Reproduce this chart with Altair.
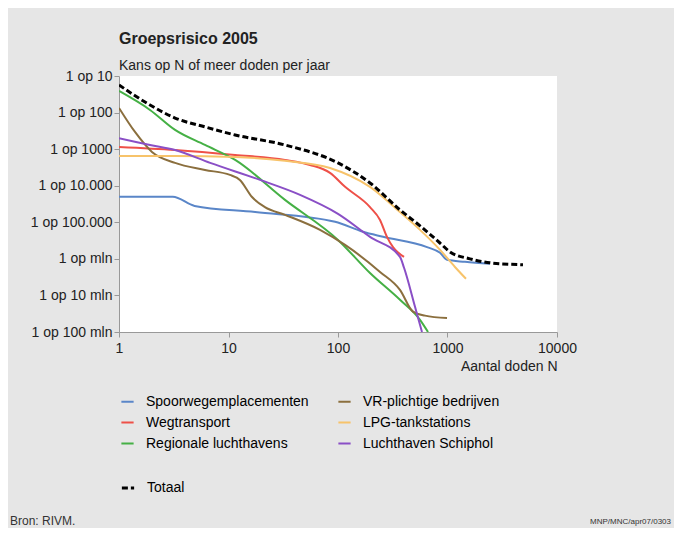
import json
import altair as alt
import pandas as pd

# ---- data ----
# legend fills column by column: first column, then second column
series_names = ["Spoorwegemplacementen", "Wegtransport", "Regionale luchthavens",
                "VR-plichtige bedrijven", "LPG-tankstations", "Luchthaven Schiphol"]
series_colors = ["#5a86c8", "#ee5048", "#45b045", "#8b6f3e", "#f7c36a", "#8a4fc6"]

spoor_n = [1, 3.1, 4.9, 17.5, 94, 169, 258, 650, 855, 990, 1445, 2445]
spoor_f = [5e-5, 5e-5, 2.8e-5, 1.9e-5, 1.03e-5, 5.5e-6, 4.0e-6, 2.1e-6, 1.46e-6, 9.4e-7, 8.3e-7, 7.3e-7]

weg_n = [1, 3.25, 11.5, 32.8, 55.5, 84.5, 116, 196, 242, 280, 318, 401]
weg_f = [1.15e-3, 9.5e-4, 6.95e-4, 5.07e-4, 3.7e-4, 2.24e-4, 9.3e-5, 2.6e-5, 1.16e-5, 4.0e-6, 2.1e-6, 1.13e-6]

regio_n = [1, 1.92, 3.25, 6.1, 11.5, 32.8, 100, 196, 368, 561, 664]
regio_f = [0.039, 0.0118, 0.00335, 0.0013, 5.07e-4, 4.1e-5, 3.3e-6, 4.1e-7, 7.6e-8, 2.15e-8, 1e-8]

vr_n = [1, 1.4, 2.0, 3.25, 6.1, 10.3, 12.7, 16.4, 21.5, 32.8, 68.5, 116, 242, 368, 484, 623, 990]
vr_f = [0.0134, 0.00295, 8.4e-4, 4.2e-4, 2.7e-4, 1.97e-4, 1.44e-4, 4.9e-5, 2.6e-5, 1.6e-5,
        6.2e-6, 2.4e-6, 4.4e-7, 1.42e-7, 3.6e-8, 2.8e-8, 2.4e-8]

lpg_n = [1, 3.25, 11.5, 32.8, 84.5, 196, 368, 561, 855, 1170, 1475]
lpg_f = [6.5e-4, 6.5e-4, 6.1e-4, 4.8e-4, 3.06e-4, 9.3e-5, 1.9e-5, 6.2e-6, 1.76e-6, 6.0e-7, 2.85e-7]

schiphol_n = [1, 1.92, 3.25, 6.8, 19.4, 45, 100, 196, 368, 401, 505, 585]
schiphol_f = [2.0e-3, 1.3e-3, 9.5e-4, 4.2e-4, 1.44e-4, 5.6e-5, 1.7e-5, 4.0e-6, 1.13e-6, 5.7e-7, 4.9e-8, 1e-8]

totaal_n = [1, 1.92, 3.25, 6.1, 11.5, 32.8, 100, 196, 368, 561, 855, 1054, 1604, 2445, 4890]
totaal_f = [0.0568, 0.0161, 0.0071, 0.00405, 0.00244, 0.0013, 4.2e-4, 1.19e-4, 2.18e-5,
            8.0e-6, 2.7e-6, 1.55e-6, 1.0e-6, 7.8e-7, 6.9e-7]

x_ticks = [1, 10, 100, 1000, 10000]
y_ticks = [1e-1, 1e-2, 1e-3, 1e-4, 1e-5, 1e-6, 1e-7, 1e-8]
y_tick_labels = ["1 op 10", "1 op 100", "1 op 1000", "1 op 10.000", "1 op 100.000",
                 "1 op mln", "1 op 10 mln", "1 op 100 mln"]

title_text = "Groepsrisico 2005"
subtitle_text = "Kans op N of meer doden per jaar"
x_title = "Aantal doden N"
footer_left = "Bron: RIVM."
footer_right = "MNP/MNC/apr07/0303"

# ---- tables ----
pairs = {
    "Spoorwegemplacementen": (spoor_n, spoor_f),
    "Wegtransport": (weg_n, weg_f),
    "Regionale luchthavens": (regio_n, regio_f),
    "VR-plichtige bedrijven": (vr_n, vr_f),
    "LPG-tankstations": (lpg_n, lpg_f),
    "Luchthaven Schiphol": (schiphol_n, schiphol_f),
}
rows = []
for name, (ns, fs) in pairs.items():
    for i, (n, f) in enumerate(zip(ns, fs)):
        rows.append({"serie": name, "N": n, "F": f, "i": i})
df = pd.DataFrame(rows)
df_tot = pd.DataFrame({"serie": "Totaal", "N": totaal_n, "F": totaal_f, "i": range(len(totaal_n))})

FONT = "Liberation Sans"
label_expr = json.dumps([""] + y_tick_labels) + "[round(-log(datum.value)/LN10)]"

x_enc = alt.X("N:Q", scale=alt.Scale(type="log", domain=[1, 10000]),
              axis=alt.Axis(values=x_ticks, format="d", title=x_title, titleAnchor="end",
                            grid=False, tickSize=5, labelPadding=4, titlePadding=4,
                            labelFontSize=14, titleFontSize=14, titleFontWeight="normal",
                            labelFlush=False))
y_enc = alt.Y("F:Q", scale=alt.Scale(type="log", domain=[1e-8, 1e-1]),
              axis=alt.Axis(values=y_ticks, labelExpr=label_expr, title=None, grid=False,
                            tickSize=5, labelPadding=2, labelFontSize=14))

lines = alt.Chart(df).mark_line(strokeWidth=2, interpolate="monotone", clip=True).encode(
    x=x_enc, y=y_enc,
    color=alt.Color("serie:N", scale=alt.Scale(domain=series_names, range=series_colors),
                    legend=alt.Legend(title=None, orient="none", legendX=1, legendY=318,
                                      columns=2, symbolType="stroke", symbolSize=150,
                                      symbolStrokeWidth=2, labelFontSize=14, labelFont=FONT,
                                      labelLimit=300, columnPadding=25, rowPadding=6,
                                      labelOffset=11, padding=0)),
    order="i:Q",
)

totaal = alt.Chart(df_tot).mark_line(strokeWidth=3, color="black", interpolate="monotone",
                                      clip=True).encode(
    x="N:Q", y="F:Q",
    strokeDash=alt.StrokeDash("serie:N", scale=alt.Scale(domain=["Totaal"], range=[[6, 3]]),
                              legend=alt.Legend(title=None, orient="none", legendX=1,
                                                legendY=404, symbolType="stroke",
                                                symbolSize=150, symbolStrokeWidth=3,
                                                symbolStrokeColor="black",
                                                labelFontSize=14, labelFont=FONT,
                                                labelOffset=11, padding=0)),
    order="i:Q",
)

foot_l = alt.Chart(pd.DataFrame({"t": [footer_left]})).mark_text(
    align="left", baseline="alphabetic", fontSize=12, font=FONT, color="#333"
).encode(x=alt.value(-109), y=alt.value(449), text="t:N")

foot_r = alt.Chart(pd.DataFrame({"t": [footer_right]})).mark_text(
    align="right", baseline="alphabetic", fontSize=8, font=FONT, color="#333"
).encode(x=alt.value(552), y=alt.value(448), text="t:N")

chart = alt.layer(lines, totaal, foot_l, foot_r).properties(
    width=438, height=256,
    title=alt.TitleParams(text=title_text, subtitle=subtitle_text, anchor="start",
                          frame="group", fontSize=16, fontWeight="bold", font=FONT,
                          subtitleFont=FONT, subtitleFontSize=14, subtitlePadding=12,
                          color="#222", subtitleColor="#222", offset=-4),
    autosize=alt.AutoSizeParams(type="none"),
    padding={"left": 111, "top": 68, "right": 117, "bottom": 196},
    background="#e6e6e6",
).configure_view(fill="white", stroke=None).configure_axis(
    labelFont=FONT, titleFont=FONT, labelColor="#222", titleColor="#222",
    domainColor="#999", tickColor="#999"
)

chart.save("out.html", embed_options={"renderer": "svg", "actions": False})
